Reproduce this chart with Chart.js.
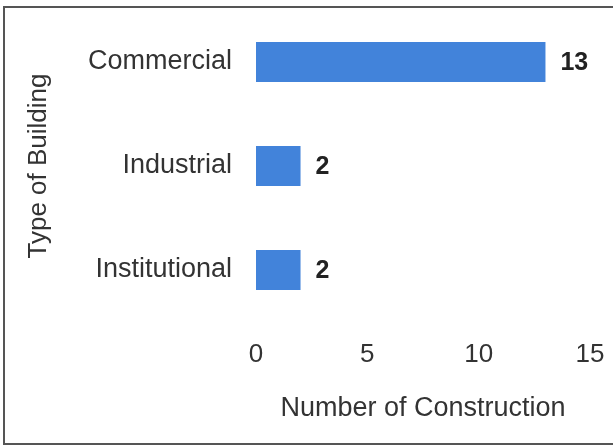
<!DOCTYPE html>
<html>
<head>
<meta charset="utf-8">
<script src="https://cdn.jsdelivr.net/npm/chart.js@4/dist/chart.umd.min.js"></script>
<style>
  html, body { margin: 0; padding: 0; background: #fff; }
  #wrap { position: relative; width: 613px; height: 446px; }
</style>
</head>
<body>
<div id="wrap"><canvas id="c" width="613" height="446"></canvas></div>
<script>
// Building types and how many constructions of each
const categories = ['Commercial', 'Industrial', 'Institutional'];
const constructionCounts = [13, 2, 2];
const xTicks = [0, 5, 10, 15];

const FONT = "'Liberation Sans', Arial, sans-serif";

// Value printed just past the end of every bar
const barValueLabels = {
  id: 'barValueLabels',
  afterDatasetsDraw(chart) {
    const ctx = chart.ctx;
    const meta = chart.getDatasetMeta(0);
    ctx.save();
    ctx.font = "bold 25px " + FONT;
    ctx.fillStyle = '#222';
    ctx.textAlign = 'left';
    ctx.textBaseline = 'middle';
    meta.data.forEach((bar, i) => {
      ctx.fillText(String(constructionCounts[i]), bar.x + 15, bar.y + 1);
    });
    ctx.restore();
  }
};

// Thin frame round the whole figure
const frame = {
  id: 'frame',
  afterDraw(chart) {
    const ctx = chart.ctx;
    ctx.save();
    ctx.strokeStyle = '#555';
    ctx.lineWidth = 2;
    ctx.strokeRect(4, 7, 620, 437);
    ctx.restore();
  }
};

new Chart(document.getElementById('c'), {
  type: 'bar',
  data: {
    labels: categories,
    datasets: [{
      data: constructionCounts,
      backgroundColor: '#4283da',
      borderWidth: 0,
      barPercentage: 0.385,
      categoryPercentage: 1
    }]
  },
  options: {
    indexAxis: 'y',
    responsive: false,
    animation: false,
    events: [],
    layout: { padding: { top: 10, left: 22, right: 23, bottom: 21 } },
    plugins: { legend: { display: false }, tooltip: { enabled: false } },
    scales: {
      x: {
        min: 0, max: 15,
        afterBuildTicks(scale) { scale.ticks = xTicks.map(v => ({ value: v })); },
        afterFit(scale) {
          scale.height = 446 - 322 - 21;
          scale.paddingLeft = 0;
          scale.paddingRight = 0;
        },
        grid: { display: false, drawTicks: false },
        border: { display: false },
        ticks: { padding: 17, color: '#333', font: { family: FONT, size: 26 } },
        title: {
          display: true, text: 'Number of Construction', color: '#333',
          font: { family: FONT, size: 27 }, padding: { top: 24, bottom: 0 }
        }
      },
      y: {
        afterFit(scale) {
          scale.width = 256 - 22;
          scale.paddingTop = 0;
          scale.paddingBottom = 0;
        },
        grid: { display: false, drawTicks: false },
        border: { display: false },
        ticks: { padding: 24, color: '#333', font: { family: FONT, size: 27 } },
        title: {
          display: true, text: 'Type of Building', color: '#333',
          font: { family: FONT, size: 26 }, padding: { top: 1, bottom: 0 }
        }
      }
    }
  },
  plugins: [barValueLabels, frame]
});
</script>
</body>
</html>
